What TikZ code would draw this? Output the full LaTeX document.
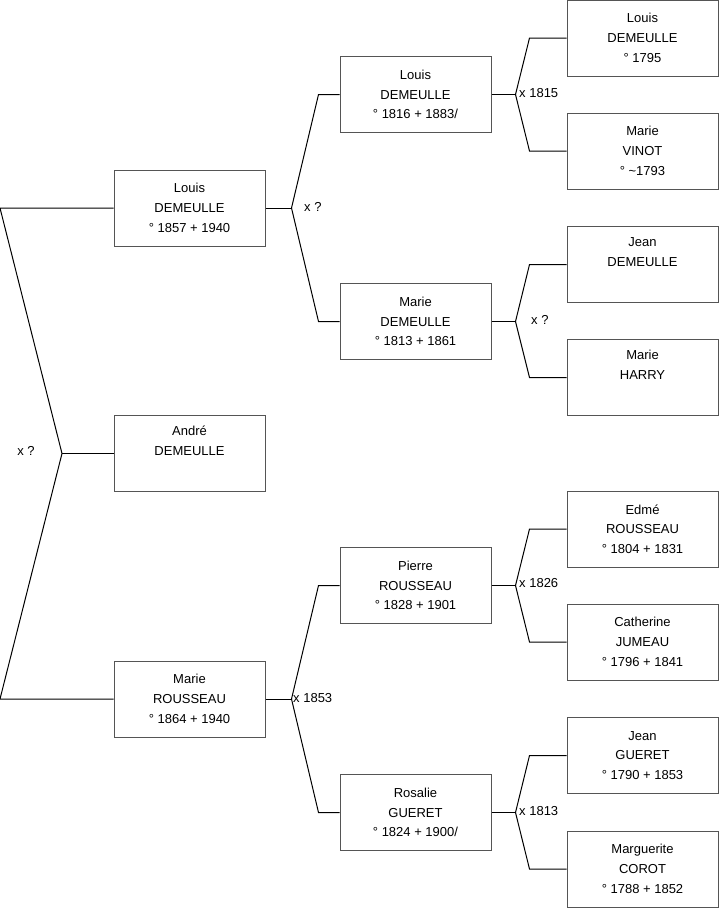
\documentclass[tikz,border=0pt]{standalone}
\usepackage{fontspec}
\setmainfont{Liberation Sans}
\usetikzlibrary{calc}
\definecolor{boxgrey}{HTML}{555555}

\tikzset{
  person/.style={draw=boxgrey, line width=1pt, fill=white, minimum width=151pt, minimum height=76pt,
    align=center, inner sep=0pt, font=\fontsize{13}{19.7}\selectfont},
  link/.style={draw=black, line width=1pt},
  union/.style={font=\fontsize{13}{15}\selectfont, inner sep=0pt},
}

% fork from a child to its two parents
\newcommand{\couple}[5]{%
  \coordinate (#1-x) at ($(#1.east)+(#4,0)$);
  \draw[link] (#1.east) -- (#1-x);
  \draw[link] (#1-x) -- ($(#2.west)-(#5,0)$) -- (#2.west);
  \draw[link] (#1-x) -- ($(#3.west)-(#5,0)$) -- (#3.west);
}

\begin{document}
\begin{tikzpicture}[x=1pt,y=-1pt]
  \useasboundingbox (0,0) rectangle (719,908);

  % child and parents
  \node[person] (andre) at (189.5,453.5) {André\\DEMEULLE\\\strut};
  \node[person] (louisA) at (189.5,208) {Louis\\DEMEULLE\\° 1857 + 1940};
  \node[person] (marieA) at (189.5,699) {Marie\\ROUSSEAU\\° 1864 + 1940};

  % grandparents
  \node[person] (louisB) at (415.5,94.5) {Louis\\DEMEULLE\\° 1816 + 1883/};
  \node[person] (marieB) at (415.5,321.5) {Marie\\DEMEULLE\\° 1813 + 1861};
  \node[person] (pierreB) at (415.5,585.5) {Pierre\\ROUSSEAU\\° 1828 + 1901};
  \node[person] (rosalieB) at (415.5,812.5) {Rosalie\\GUERET\\° 1824 + 1900/};

  % great-grandparents
  \node[person] (louisC) at (642.5,38) {Louis\\DEMEULLE\\° 1795};
  \node[person] (marieC) at (642.5,151) {Marie\\VINOT\\° \textasciitilde1793};
  \node[person] (jeanC) at (642.5,264.5) {Jean\\DEMEULLE\\\strut};
  \node[person] (harryC) at (642.5,377.5) {Marie\\HARRY\\\strut};
  \node[person] (edmeC) at (642.5,529) {Edmé\\ROUSSEAU\\° 1804 + 1831};
  \node[person] (cathC) at (642.5,642) {Catherine\\JUMEAU\\° 1796 + 1841};
  \node[person] (jeanD) at (642.5,755.5) {Jean\\GUERET\\° 1790 + 1853};
  \node[person] (margC) at (642.5,869) {Marguerite\\COROT\\° 1788 + 1852};

  % parents of André
  \coordinate (top) at (0,208);
  \coordinate (split) at (62,453.5);
  \coordinate (bottom) at (0,699);
  \draw[link] (louisA.west) -- (top) -- (split) -- (bottom) -- (marieA.west);
  \draw[link] (split) -- (andre.west);
  \node[union] (u0) at (26,451) {x ?};

  \couple{louisA}{louisB}{marieB}{26}{21}
  \couple{marieA}{pierreB}{rosalieB}{26}{21}
  \couple{louisB}{louisC}{marieC}{24}{37}
  \couple{marieB}{jeanC}{harryC}{24}{37}
  \couple{pierreB}{edmeC}{cathC}{24}{37}
  \couple{rosalieB}{jeanD}{margC}{24}{37}

  \node[union, anchor=west] (u1) at (304,207) {x ?};
  \node[union, anchor=west] (u2) at (293,698) {x 1853};
  \node[union, anchor=west] (u3) at (519,93) {x 1815};
  \node[union, anchor=west] (u4) at (531,320) {x ?};
  \node[union, anchor=west] (u5) at (519,583) {x 1826};
  \node[union, anchor=west] (u6) at (519,811) {x 1813};
\end{tikzpicture}
\end{document}
